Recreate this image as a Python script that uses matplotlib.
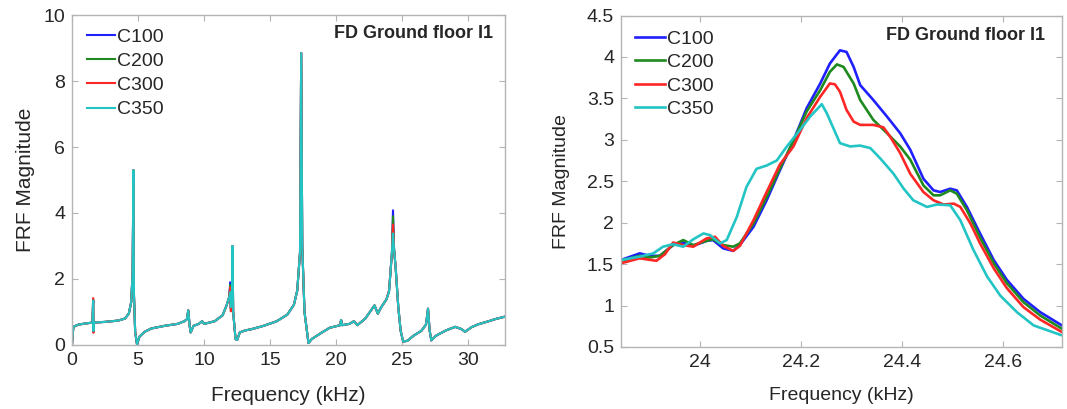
import matplotlib
matplotlib.use("Agg")
import matplotlib.pyplot as plt
from matplotlib.ticker import FuncFormatter

plt.rcParams['font.family'] = ['Liberation Sans', 'DejaVu Sans']

series = ["C100", "C200", "C300", "C350"]
colors = {"C100": "#1f1fff", "C200": "#1f8a1f", "C300": "#ff2626", "C350": "#22c4c4"}

# full band FRF (kHz, magnitude), others lie under it
wide_freq = [0.00, 0.10, 0.50, 1.00, 1.55, 1.60, 1.62, 1.66, 2.50, 3.50, 4.00, 4.30,
             4.48, 4.59, 4.65, 4.69, 4.78, 4.92, 5.10, 5.50, 6.00, 7.00, 8.00, 8.50,
             8.70, 8.80, 8.90, 8.98, 9.20, 9.60, 9.85, 10.00, 10.80, 11.40, 11.70, 11.90,
             11.98, 12.02, 12.10, 12.15, 12.20, 12.38, 12.50, 12.70, 13.10, 13.60, 14.50, 15.50,
             16.30, 16.80, 17.05, 17.26, 17.35, 17.43, 17.60, 17.90, 18.15, 18.80, 19.50, 20.00,
             20.30, 20.37, 20.45, 21.00, 21.34, 21.60, 22.20, 22.90, 23.15, 23.40, 23.80, 24.00,
             24.22, 24.30, 24.38, 24.50, 24.70, 24.88, 25.07, 25.40, 25.85, 26.45, 26.80, 26.95,
             27.07, 27.20, 27.55, 28.30, 29.00, 29.50, 29.75, 30.25, 30.70, 31.20, 31.70, 32.00,
             32.78]
wide_mag = [0.02, 0.55, 0.62, 0.65, 0.68, 1.35, 0.42, 0.68, 0.70, 0.74, 0.80, 0.95,
            1.30, 2.20, 5.30, 1.50, 0.40, 0.02, 0.25, 0.40, 0.50, 0.58, 0.64, 0.72,
            0.78, 1.05, 0.60, 0.38, 0.58, 0.64, 0.72, 0.64, 0.72, 0.90, 1.20, 1.45,
            1.60, 1.15, 1.30, 3.00, 1.00, 0.18, 0.15, 0.38, 0.44, 0.48, 0.58, 0.72,
            0.92, 1.22, 1.65, 2.80, 8.85, 3.00, 1.00, 0.06, 0.18, 0.35, 0.52, 0.57,
            0.60, 0.76, 0.60, 0.64, 0.72, 0.60, 0.80, 1.20, 0.95, 1.14, 1.38, 1.62,
            2.80, 3.38, 2.90, 2.35, 1.15, 0.43, 0.10, 0.13, 0.28, 0.43, 0.62, 1.10,
            0.45, 0.14, 0.28, 0.44, 0.55, 0.48, 0.40, 0.54, 0.62, 0.68, 0.74, 0.78,
            0.86]

# where the series part from each other in the full band view
spike_freq = [1.60, 1.62, 11.98, 12.02, 24.00, 24.30]
spike_mag = {
    "C100": [1.36, 0.41, 1.90, 1.12, 1.62, 4.08],
    "C200": [1.37, 0.40, 1.82, 1.10, 1.63, 3.90],
    "C300": [1.42, 0.37, 1.75, 1.02, 1.66, 3.65],
    "C350": [1.35, 0.42, 1.60, 1.15, 1.62, 3.38],
}

# zoom around the 24.3 kHz mode
zoom_freq = {
    "C100": [23.844, 23.881, 23.901, 23.921, 23.947, 23.967, 23.987, 24.013, 24.026, 24.046,
             24.066, 24.079, 24.106, 24.132, 24.158, 24.185, 24.211, 24.238, 24.257, 24.277,
             24.290, 24.304, 24.317, 24.343, 24.370, 24.396, 24.416, 24.442, 24.462, 24.475,
             24.495, 24.508, 24.528, 24.554, 24.581, 24.607, 24.640, 24.673, 24.716],
    "C200": [23.844, 23.881, 23.901, 23.921, 23.947, 23.967, 23.987, 24.013, 24.026, 24.046,
             24.066, 24.079, 24.106, 24.132, 24.158, 24.185, 24.211, 24.238, 24.257, 24.271,
             24.284, 24.304, 24.317, 24.343, 24.370, 24.396, 24.416, 24.442, 24.462, 24.475,
             24.495, 24.508, 24.528, 24.554, 24.581, 24.607, 24.640, 24.673, 24.716],
    "C300": [23.844, 23.881, 23.914, 23.931, 23.947, 23.967, 23.987, 24.013, 24.030, 24.046,
             24.066, 24.079, 24.106, 24.132, 24.158, 24.185, 24.211, 24.238, 24.257, 24.267,
             24.277, 24.290, 24.304, 24.317, 24.343, 24.363, 24.376, 24.396, 24.416, 24.442,
             24.462, 24.482, 24.502, 24.515, 24.535, 24.554, 24.581, 24.607, 24.640, 24.673,
             24.716],
    "C350": [23.844, 23.881, 23.908, 23.927, 23.947, 23.967, 23.987, 24.007, 24.020, 24.040,
             24.053, 24.073, 24.092, 24.112, 24.132, 24.152, 24.172, 24.198, 24.218, 24.241,
             24.251, 24.264, 24.277, 24.297, 24.317, 24.337, 24.356, 24.383, 24.403, 24.422,
             24.449, 24.469, 24.495, 24.515, 24.541, 24.568, 24.594, 24.627, 24.660, 24.716],
}
zoom_mag = {
    "C100": [1.55, 1.63, 1.60, 1.60, 1.73, 1.76, 1.72, 1.78, 1.79, 1.69,
             1.66, 1.73, 1.95, 2.27, 2.63, 2.99, 3.38, 3.68, 3.92, 4.08,
             4.06, 3.88, 3.66, 3.48, 3.28, 3.08, 2.88, 2.53, 2.39, 2.37,
             2.41, 2.39, 2.19, 1.87, 1.55, 1.31, 1.08, 0.92, 0.76],
    "C200": [1.54, 1.60, 1.58, 1.60, 1.73, 1.79, 1.73, 1.78, 1.80, 1.73,
             1.71, 1.75, 1.99, 2.31, 2.65, 2.99, 3.34, 3.60, 3.82, 3.91,
             3.88, 3.68, 3.48, 3.24, 3.08, 2.92, 2.76, 2.45, 2.33, 2.33,
             2.39, 2.35, 2.15, 1.82, 1.51, 1.27, 1.04, 0.88, 0.72],
    "C300": [1.51, 1.57, 1.54, 1.62, 1.76, 1.73, 1.71, 1.81, 1.83, 1.72,
             1.66, 1.72, 2.03, 2.37, 2.70, 2.92, 3.26, 3.52, 3.68, 3.67,
             3.58, 3.36, 3.22, 3.18, 3.18, 3.15, 3.04, 2.84, 2.59, 2.37,
             2.27, 2.22, 2.23, 2.19, 1.99, 1.75, 1.45, 1.21, 0.98, 0.83,
             0.68],
    "C350": [1.55, 1.59, 1.63, 1.71, 1.74, 1.71, 1.80, 1.87, 1.85, 1.75,
             1.79, 2.07, 2.43, 2.65, 2.69, 2.75, 2.92, 3.12, 3.28, 3.43,
             3.32, 3.14, 2.96, 2.92, 2.93, 2.90, 2.78, 2.59, 2.41, 2.27,
             2.19, 2.22, 2.21, 2.03, 1.67, 1.35, 1.12, 0.92, 0.76, 0.64],
}

annot = "FD Ground floor I1"
spine_gray = "#b4b4b4"
text_dark = "#262626"


def style_axes(ax):
    for s in ax.spines.values():
        s.set_color(spine_gray)
        s.set_linewidth(1.0)
    ax.tick_params(direction="in", length=4, width=0.8, color=spine_gray,
                   top=True, right=True, labelsize=14, labelcolor=text_dark, pad=5)
    ax.xaxis.set_major_formatter(FuncFormatter(lambda v, p: f"{v:g}"))
    ax.yaxis.set_major_formatter(FuncFormatter(lambda v, p: f"{v:g}"))


fig = plt.figure(figsize=(10.67, 4.09), dpi=100)
ax1 = fig.add_axes([0.0675, 0.1565, 0.4058, 0.8068])
ax2 = fig.add_axes([0.582, 0.1516, 0.4133, 0.8105])

# --- left: full band ---
for name in series:
    mag = list(wide_mag)
    for f, v in zip(spike_freq, spike_mag[name]):
        mag[wide_freq.index(f)] = v
    ax1.plot(wide_freq, mag, color=colors[name], lw=1.5, label=name)

ax1.set_xlim(0, 32.78)
ax1.set_ylim(0, 10)
ax1.set_xticks([0, 5, 10, 15, 20, 25, 30])
ax1.set_yticks([0, 2, 4, 6, 8, 10])
style_axes(ax1)
ax1.set_xlabel("Frequency (kHz)", fontsize=15, color=text_dark)
ax1.set_ylabel("FRF Magnitude", fontsize=15, color=text_dark)
ax1.xaxis.set_label_coords(0.5, -0.125)
ax1.yaxis.set_label_coords(-0.085, 0.5)
ax1.legend(loc="upper left", bbox_to_anchor=(0.035, 0.96), frameon=False, fontsize=14,
           handlelength=1.45, handletextpad=0.1, labelspacing=0.34, borderpad=0,
           borderaxespad=0, labelcolor=text_dark)
ax1.text(0.972, 0.945, annot, transform=ax1.transAxes, ha="right", va="center",
         fontsize=13, fontweight="bold", color=text_dark)

# --- right: zoom on 24.3 kHz ---
for name in series:
    ax2.plot(zoom_freq[name], zoom_mag[name], color=colors[name], lw=1.9, label=name)

ax2.set_xlim(23.844, 24.716)
ax2.set_ylim(0.5, 4.5)
ax2.set_xticks([24.0, 24.2, 24.4, 24.6])
ax2.set_yticks([0.5, 1, 1.5, 2, 2.5, 3, 3.5, 4, 4.5])
style_axes(ax2)
ax2.set_xlabel("Frequency (kHz)", fontsize=14, color=text_dark)
ax2.set_ylabel("FRF Magnitude", fontsize=14, color=text_dark)
ax2.xaxis.set_label_coords(0.5, -0.12)
ax2.yaxis.set_label_coords(-0.115, 0.5)
ax2.legend(loc="upper left", bbox_to_anchor=(0.032, 0.956), frameon=False, fontsize=14,
           handlelength=1.55, handletextpad=0.1, labelspacing=0.3, borderpad=0,
           borderaxespad=0, labelcolor=text_dark)
ax2.text(0.961, 0.941, annot, transform=ax2.transAxes, ha="right", va="center",
         fontsize=13, fontweight="bold", color=text_dark)

fig.savefig("out.png", dpi=100)
